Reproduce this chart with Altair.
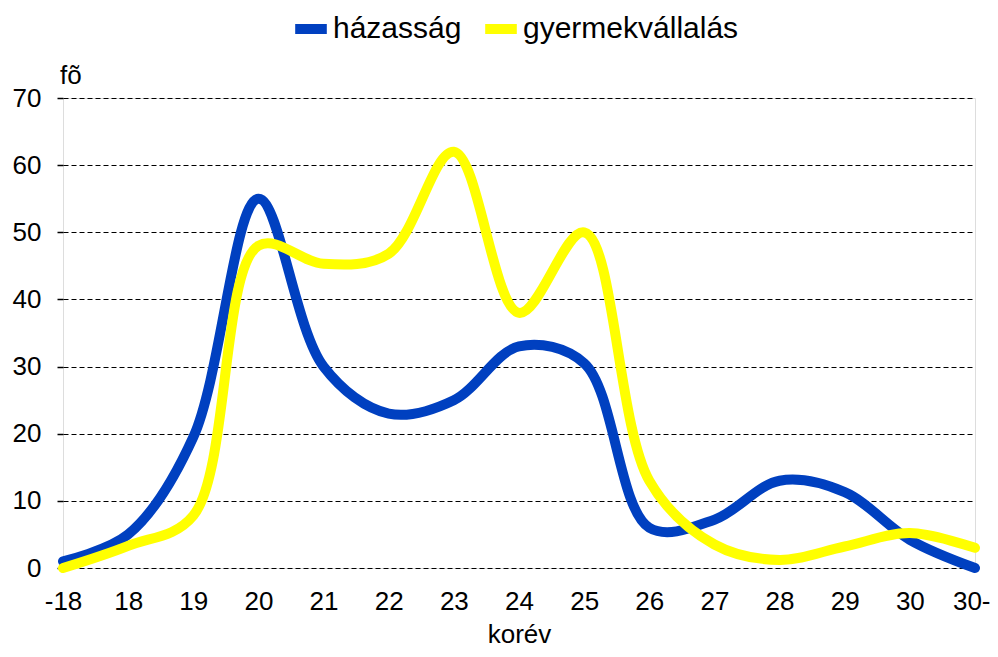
import altair as alt
import pandas as pd

categories = ["-18", "18", "19", "20", "21", "22", "23", "24", "25", "26", "27", "28", "29", "30", "30-"]
hazassag = [1, 5, 19.5, 55, 30, 23, 25, 33, 30.5, 6, 7.2, 13, 11.3, 4.2, 0]
gyermekvallalas = [0, 3.3, 7.8, 48, 45.3, 46.8, 62, 38, 50, 13, 3.5, 1.2, 3.2, 5.2, 3]
series_names = ["házasság", "gyermekvállalás"]
series_colors = ["#0040C0", "#FFFF00"]

rows = []
for i, c in enumerate(categories):
    rows.append({"korev": c, "order": i, "sorozat": series_names[0], "fo": hazassag[i], "so": 0})
for i, c in enumerate(categories):
    rows.append({"korev": c, "order": i, "sorozat": series_names[1], "fo": gyermekvallalas[i], "so": 1})
df = pd.DataFrame(rows)

FONT = "Liberation Sans"
last_cat = categories[-1]

x_enc = alt.X(
    "korev:O",
    sort=categories,
    scale=alt.Scale(type="point", padding=0),
    axis=alt.Axis(
        title="korév", labelAngle=0, labelFontSize=26, titleFontSize=26,
        labelFont=FONT, titleFont=FONT, titleFontWeight="normal",
        labelColor="black", titleColor="black",
        labelAlign={"condition": {"test": f"datum.value === '{last_cat}'", "value": "right"}, "value": "center"},
        labelOffset={"condition": {"test": f"datum.value === '{last_cat}'", "value": 15}, "value": 0},
        ticks=False, domain=False, grid=False, labelPadding=20, titlePadding=7,
    ),
)

y_enc = alt.Y(
    "fo:Q",
    scale=alt.Scale(domain=[0, 70], nice=False),
    axis=alt.Axis(
        title=None, values=[0, 10, 20, 30, 40, 50, 60, 70],
        labelFontSize=26, labelFont=FONT, labelColor="black",
        tickSize=6, tickColor="black", tickWidth=1.5, labelPadding=16,
        domain=False, grid=True, gridColor="black", gridDash=[5, 3], gridWidth=1,
    ),
)

lines = alt.Chart(df).mark_line(
    interpolate="catmull-rom", strokeWidth=10, strokeCap="round", strokeJoin="round"
).encode(
    x=x_enc,
    y=y_enc,
    color=alt.Color(
        "sorozat:N",
        sort=series_names,
        scale=alt.Scale(domain=series_names, range=series_colors),
        legend=alt.Legend(
            title=None, orient="none", legendX=227, legendY=-90, direction="horizontal",
            symbolType="stroke", symbolStrokeWidth=10, symbolSize=1000,
            labelFontSize=30, labelFont=FONT, labelColor="black", labelOffset=1,
            labelLimit=400, columnPadding=3, symbolOpacity=1,
        ),
    ),
    order=alt.Order("so:Q"),
    detail="sorozat:N",
)

fo_label = alt.Chart(pd.DataFrame({"t": ["fõ"]})).mark_text(
    text="fõ", font=FONT, fontSize=26, align="left", baseline="alphabetic", color="black"
).encode(x=alt.value(-3), y=alt.value(-14))

chart = alt.layer(lines, fo_label).properties(
    width=912, height=470,
    padding={"left": 55, "top": 90, "right": 15, "bottom": 81},
    autosize=alt.AutoSizeParams(type="none"),
).configure_view(
    stroke="black", strokeWidth=1.5
).configure(background="white")

chart.save("out.html", embed_options={"renderer": "svg", "actions": False})
